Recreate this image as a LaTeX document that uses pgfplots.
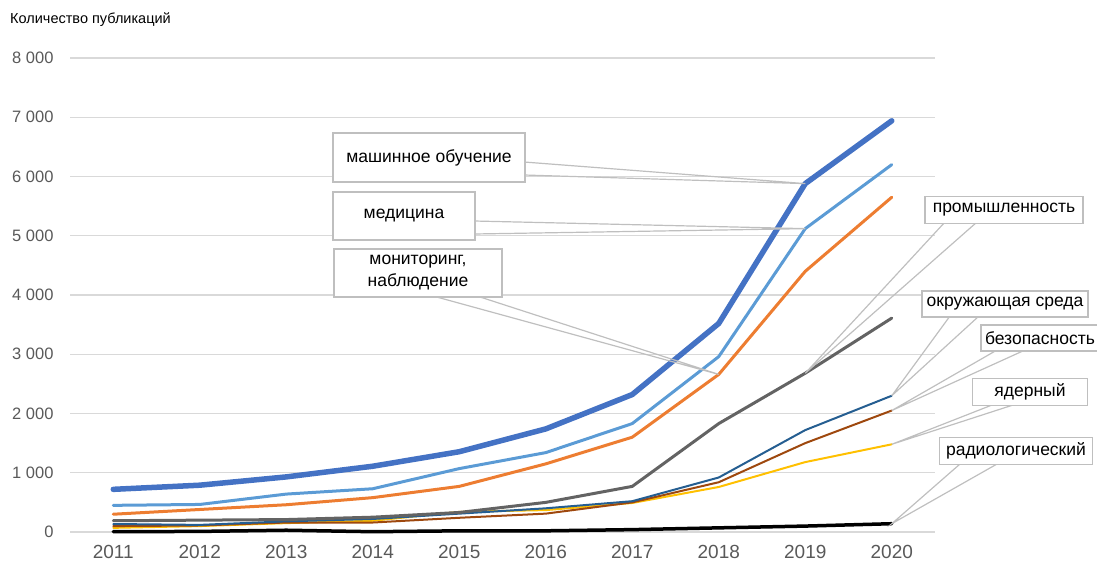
\documentclass[border=0pt]{standalone}
\usepackage{pgfplots}
\pgfplotsset{compat=1.18}
\usepackage{fontspec}
\setmainfont{Liberation Sans}
\definecolor{cML}{HTML}{4472C4}
\definecolor{cMed}{HTML}{5B9BD5}
\definecolor{cMon}{HTML}{ED7D31}
\definecolor{cInd}{HTML}{636363}
\definecolor{cEnv}{HTML}{255E91}
\definecolor{cSaf}{HTML}{9E480E}
\definecolor{cNuc}{HTML}{FFC000}
\definecolor{cRad}{HTML}{000000}
\definecolor{gridgray}{HTML}{D9D9D9}
\definecolor{labelgray}{HTML}{595959}
\definecolor{callgray}{HTML}{BFBFBF}
\begin{document}
\begin{tikzpicture}
\useasboundingbox (0pt,0pt) rectangle (1097pt,-567pt);
\begin{axis}[
  at={(70pt,-532pt)}, anchor=south west,
  scale only axis, width=865pt, height=474pt,
  xmin=2010.5, xmax=2020.5, ymin=0, ymax=8000,
  xtick={2011,2012,2013,2014,2015,2016,2017,2018,2019,2020},
  xticklabels={2011,2012,2013,2014,2015,2016,2017,2018,2019,2020},
  ytick={0,1000,2000,3000,4000,5000,6000,7000,8000},
  yticklabels={0,1 000,2 000,3 000,4 000,5 000,6 000,7 000,8 000},
  axis line style={draw=none}, major tick length=0pt,
  ymajorgrids, grid style={draw=gridgray, line width=1.2pt},
  x tick label style={font=\fontsize{19}{22}\selectfont, text=labelgray, yshift=-10pt},
  y tick label style={font=\fontsize{16.5}{19}\selectfont, text=labelgray, xshift=-13pt},
  clip=false,
  every axis plot/.append style={line join=round, line cap=round, mark=none},
]
\addplot[color=cRad, line width=3.5pt] coordinates {(2011,5)(2012,10)(2013,30)(2014,5)(2015,20)(2016,20)(2017,40)(2018,70)(2019,100)(2020,140)};
\addplot[color=cNuc, line width=2pt] coordinates {(2011,70)(2012,100)(2013,150)(2014,190)(2015,340)(2016,370)(2017,490)(2018,760)(2019,1180)(2020,1480)};
\addplot[color=cSaf, line width=2pt] coordinates {(2011,100)(2012,110)(2013,160)(2014,160)(2015,240)(2016,310)(2017,500)(2018,840)(2019,1500)(2020,2050)};
\addplot[color=cEnv, line width=2pt] coordinates {(2011,135)(2012,120)(2013,180)(2014,220)(2015,310)(2016,400)(2017,520)(2018,920)(2019,1720)(2020,2300)};
\addplot[color=cInd, line width=3pt] coordinates {(2011,190)(2012,200)(2013,210)(2014,250)(2015,330)(2016,500)(2017,770)(2018,1830)(2019,2680)(2020,3610)};
\addplot[color=cMon, line width=3pt] coordinates {(2011,300)(2012,380)(2013,460)(2014,580)(2015,770)(2016,1150)(2017,1600)(2018,2660)(2019,4400)(2020,5650)};
\addplot[color=cMed, line width=3pt] coordinates {(2011,450)(2012,465)(2013,640)(2014,730)(2015,1070)(2016,1340)(2017,1830)(2018,2960)(2019,5120)(2020,6200)};
\addplot[color=cML, line width=5.5pt] coordinates {(2011,720)(2012,790)(2013,930)(2014,1110)(2015,1355)(2016,1740)(2017,2320)(2018,3520)(2019,5880)(2020,6940)};
\coordinate (tML) at (axis cs:2019,5880);
\coordinate (tMed) at (axis cs:2019,5120);
\coordinate (tMon) at (axis cs:2018,2660);
\coordinate (tInd) at (axis cs:2019,2680);
\coordinate (tEnv) at (axis cs:2020,2300);
\coordinate (tSaf) at (axis cs:2020,2050);
\coordinate (tNuc) at (axis cs:2020,1480);
\coordinate (tRad) at (axis cs:2020,140);
\end{axis}
\node[anchor=west, font=\fontsize{14.5}{17}\selectfont, inner sep=0pt] at (10pt,-20pt) {Количество публикаций};
\begin{scope}[draw=callgray, line width=1.2pt]
\draw (524pt,-162pt) -- (tML) -- (524pt,-175pt);
\draw (474pt,-221pt) -- (tMed) -- (474pt,-234pt);
\draw (433pt,-296pt) -- (tMon) -- (477pt,-296pt);
\draw (945pt,-222pt) -- (tInd) -- (977pt,-222pt);
\draw (950pt,-316pt) -- (tEnv) -- (979pt,-316pt);
\draw (997pt,-350pt) -- (tSaf) -- (1025pt,-350pt);
\draw (992pt,-405pt) -- (tNuc) -- (1013pt,-405pt);
\draw (960pt,-464pt) -- (tRad) -- (997pt,-464pt);
\end{scope}
\tikzset{cbox/.style={draw=callgray, line width=1.2pt, fill=white, inner sep=0pt, font=\fontsize{17.5}{22}\selectfont, align=center}}
\node[cbox, minimum width=192pt, minimum height=49pt] at (429pt,-157.5pt) {машинное обучение};
\node[cbox, minimum width=142pt, minimum height=48pt] at (404pt,-216pt) {медицина};
\node[cbox, minimum width=168pt, minimum height=48pt] at (418pt,-273pt) {мониторинг,\\наблюдение};
\node[cbox, minimum width=158pt, minimum height=27pt] at (1004pt,-210pt) {промышленность};
\node[cbox, minimum width=166pt, minimum height=26pt] at (1005pt,-304pt) {окружающая среда};
\node[cbox, minimum width=118pt, minimum height=26pt] at (1040pt,-338pt) {безопасность};
\node[cbox, minimum width=115pt, minimum height=27pt] at (1030pt,-392pt) {ядерный};
\node[cbox, minimum width=153pt, minimum height=27pt] at (1016pt,-451pt) {радиологический};
\end{tikzpicture}
\end{document}
